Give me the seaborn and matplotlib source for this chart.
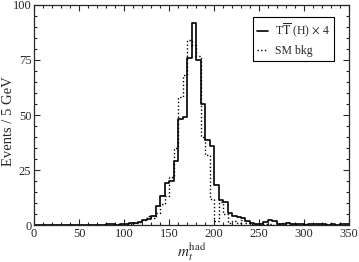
import numpy as np
import pandas as pd
import seaborn as sns
import matplotlib.pyplot as plt
from matplotlib.ticker import MultipleLocator

# histogram contents, 5 GeV bins
sig_start = 80
sig_counts = [0.3, 0.5, 0.0, 0.3, 0.5, 1.0, 1.0, 1.5, 2.3, 2.6,
              4.3, 8.6, 13.0, 19.0, 20.0, 29.0, 48.0, 49.0, 76.0, 92.0,
              75.0, 55.0, 38.5, 36.0, 18.0, 11.5, 10.5, 5.5, 4.0, 3.5,
              3.0, 2.0, 1.0, 0.3, 0.7, 1.5, 2.2, 1.7, 0.4, 0.7,
              1.0, 0.6, 0.3, 0.3, 0.0, 0.4, 0.3, 0.5, 0.6, 0.0,
              0.3, 0.0, 0.4, 0.3]

bkg_start = 90
bkg_counts = [0.3, 0.0, 0.3, 0.5, 1.0, 1.2, 2.5, 4.0, 3.0, 5.5,
              9.5, 13.0, 22.0, 35.0, 58.0, 68.0, 84.0, 82.0, 77.0, 40.0,
              32.0, 12.0, 2.0, 10.5, 5.0, 1.0, 2.0, 1.0, 2.5, 1.0,
              0.5, 0.3, 0.5, 0.3, 0.5, 0.0, 0.3, 1.0, 1.0, 0.3,
              0.5, 0.0, 0.3, 0.0, 0.0, 0.3, 0.0, 0.3]

sig = pd.DataFrame({"m": np.arange(len(sig_counts)) * 5.0 + sig_start + 2.5,
                    "n": sig_counts})
bkg = pd.DataFrame({"m": np.arange(len(bkg_counts)) * 5.0 + bkg_start + 2.5,
                    "n": bkg_counts})

sns.set_style("ticks")
plt.rcParams["font.family"] = ["Liberation Serif", "DejaVu Serif"]
plt.rcParams["mathtext.fontset"] = "stix"

fig = plt.figure(figsize=(3.59, 2.62), dpi=100)
ax = fig.add_axes([0.095, 0.141, 0.877, 0.84])

sns.histplot(data=sig, x="m", weights="n", binwidth=5, binrange=(0, 350), element="step",
             fill=False, color="black", linewidth=1.2, ax=ax,
             label=r"T$\overline{\rm T}$ (H) $\times$ 4")
sns.histplot(data=bkg, x="m", weights="n", binwidth=5, binrange=(0, 350), element="step",
             fill=False, color="black", linewidth=1.0, linestyle=":", ax=ax, label="SM bkg")

ax.set_xlim(0, 350)
ax.set_ylim(0, 100)
ax.xaxis.set_major_locator(MultipleLocator(50))
ax.xaxis.set_minor_locator(MultipleLocator(10))
ax.yaxis.set_major_locator(MultipleLocator(25))
ax.yaxis.set_minor_locator(MultipleLocator(5))
ax.tick_params(which="both", direction="in", top=True, right=True, labelsize=9, pad=2)
ax.tick_params(which="major", length=4.5, width=0.8)
ax.tick_params(which="minor", length=2.2, width=0.8)
for s in ax.spines.values():
    s.set_linewidth(0.9)

ax.set_xlabel(r"$m_t^{\rm had}$", fontsize=11, labelpad=1)
ax.set_ylabel("Events / 5 GeV", fontsize=10.5)
ax.yaxis.set_label_coords(-0.062, 0.47)

leg = ax.legend(loc="upper right", bbox_to_anchor=(0.952, 0.945), fontsize=8.5,
                handlelength=0.95, handletextpad=0.6, borderpad=0.35, labelspacing=0.45,
                borderaxespad=0, fancybox=False, framealpha=1, edgecolor="black")
leg.get_frame().set_linewidth(0.8)

fig.savefig("out.png", dpi=100)
